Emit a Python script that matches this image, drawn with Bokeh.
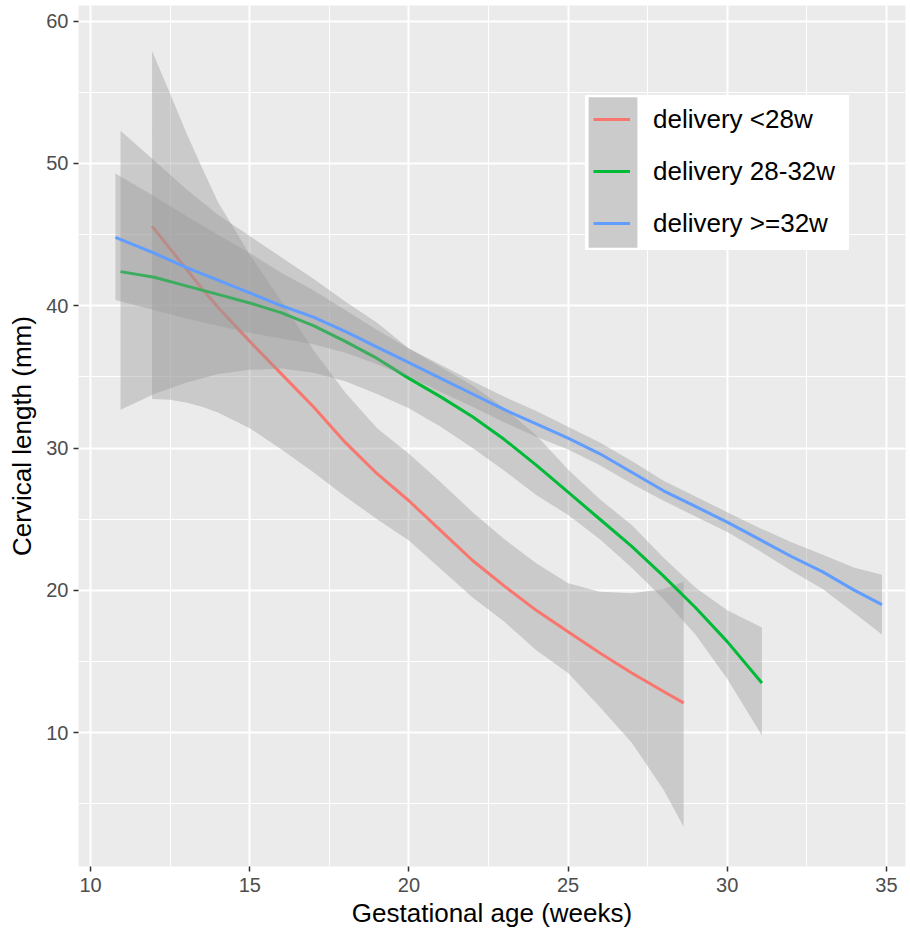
from bokeh.plotting import figure
from bokeh.models import (ColumnDataSource, SingleIntervalTicker, Legend, LegendItem, Range1d)
from bokeh.embed import file_html
from bokeh.resources import INLINE

# ---- data ----
red_x = [11.93, 12.5, 13, 13.5, 14, 15, 16, 17, 18, 19, 20, 21, 22, 23, 24, 25, 26, 27, 28, 28.63]
red_y = [45.6, 44.0, 42.6, 41.2, 39.9, 37.5, 35.2, 32.9, 30.4, 28.2, 26.3, 24.2, 22.1, 20.3, 18.6, 17.1, 15.6, 14.2, 12.9, 12.1]
red_hi = [57.9, 54.9, 52.2, 49.7, 47.3, 43.6, 40.3, 36.9, 33.9, 31.4, 29.6, 27.6, 25.5, 23.6, 21.9, 20.5, 19.9, 19.8, 20.1, 20.6]
red_lo = [33.45, 33.4, 33.2, 32.9, 32.5, 31.4, 29.9, 28.3, 26.6, 25.0, 23.5, 21.5, 19.5, 17.8, 15.8, 14.2, 11.8, 9.3, 6.0, 3.4]

green_x = [10.94, 12, 13, 14, 15, 16, 17, 18, 19, 20, 21, 22, 23, 24, 25, 26, 27, 28, 29, 30, 31.09]
green_y = [42.4, 42.0, 41.4, 40.8, 40.2, 39.5, 38.6, 37.5, 36.3, 34.9, 33.6, 32.2, 30.6, 28.8, 26.9, 25.0, 23.1, 21.0, 18.8, 16.4, 13.5]
green_hi = [52.3, 50.2, 48.2, 46.4, 44.9, 43.4, 41.9, 40.3, 38.8, 37.0, 35.7, 34.4, 32.8, 30.9, 28.5, 26.4, 24.6, 22.3, 20.2, 18.6, 17.4]
green_lo = [32.7, 33.8, 34.6, 35.2, 35.5, 35.6, 35.3, 34.7, 33.8, 32.8, 31.5, 30.0, 28.4, 26.7, 25.3, 23.6, 21.6, 19.4, 16.9, 13.8, 9.8]

blue_x = [10.78, 12, 13, 14, 15, 16, 17, 18, 19, 20, 21, 22, 23, 24, 25, 26, 27, 28, 29, 30, 31, 32, 33, 34, 34.86]
blue_y = [44.8, 43.7, 42.7, 41.8, 40.9, 40.0, 39.2, 38.2, 37.1, 36.0, 34.9, 33.8, 32.7, 31.7, 30.7, 29.6, 28.3, 27.0, 25.9, 24.8, 23.6, 22.4, 21.3, 20.0, 19.0]
blue_hi = [49.3, 47.7, 46.3, 45.0, 43.7, 42.3, 41.1, 39.7, 38.3, 37.0, 35.85, 34.7, 33.6, 32.6, 31.5, 30.4, 29.1, 27.7, 26.6, 25.5, 24.4, 23.4, 22.5, 21.6, 21.1]
blue_lo = [40.4, 39.7, 39.1, 38.6, 38.1, 37.7, 37.3, 36.7, 35.9, 35.0, 33.95, 32.9, 31.8, 30.8, 29.9, 28.8, 27.5, 26.3, 25.2, 24.1, 22.8, 21.4, 20.1, 18.4, 16.9]

series_names = ["delivery <28w", "delivery 28-32w", "delivery >=32w"]
series_colors = ["#F8766D", "#00BA38", "#619CFF"]

x_title = "Gestational age (weeks)"
y_title = "Cervical length (mm)"

FONT = "Liberation Sans"

p = figure(width=908, height=933, output_backend="svg", toolbar_location=None,
           x_range=Range1d(9.62, 35.6), y_range=Range1d(0.6, 61.1),
           min_border_left=78, min_border_right=3, min_border_top=5, min_border_bottom=67)

p.background_fill_color = "#EBEBEB"
p.border_fill_color = "white"
p.outline_line_color = None

p.xaxis.ticker = SingleIntervalTicker(interval=5, num_minor_ticks=2)
p.yaxis.ticker = SingleIntervalTicker(interval=10, num_minor_ticks=2)

for g in (p.xgrid, p.ygrid):
    g.grid_line_color = "white"
    g.grid_line_width = 2
    g.minor_grid_line_color = "white"
    g.minor_grid_line_width = 1

for ax in (p.xaxis, p.yaxis):
    ax.axis_line_color = None
    ax.major_tick_in = 0
    ax.major_tick_out = 5
    ax.minor_tick_in = 0
    ax.minor_tick_out = 0
    ax.major_tick_line_color = "#333333"
    ax.major_tick_line_width = 1.5
    ax.major_label_text_color = "#4D4D4D"
    ax.major_label_text_font = FONT
    ax.major_label_text_font_size = "20px"
    ax.axis_label_text_font = FONT
    ax.axis_label_text_font_style = "normal"
    ax.axis_label_text_font_size = "26px"
    ax.axis_label_text_color = "black"

p.xaxis.axis_label = x_title
p.yaxis.axis_label = y_title
p.xaxis.major_label_standoff = 6
p.xaxis.axis_label_standoff = 3
p.yaxis.major_label_standoff = 5
p.yaxis.axis_label_standoff = 6

groups = [
    (red_x, red_y, red_lo, red_hi),
    (green_x, green_y, green_lo, green_hi),
    (blue_x, blue_y, blue_lo, blue_hi),
]

line_items = []
# helper renderers used only for legend keys (placed outside the visible range)
blank = p.quad(left=[-20], right=[-19], bottom=[-20], top=[-19],
               fill_alpha=0, line_alpha=0)
key_bg = p.quad(left=[-20], right=[-19], bottom=[-20], top=[-19],
                fill_color="#CBCBCB", fill_alpha=1.0, line_color=None)

for (xs, ys, lo, hi), name, col in zip(groups, series_names, series_colors):
    src = ColumnDataSource(dict(x=xs, y=ys, lo=lo, hi=hi))
    p.varea(x="x", y1="lo", y2="hi", source=src, fill_color="#999999", fill_alpha=0.4)
    ln = p.line(x="x", y="y", source=src, line_color=col, line_width=3)
    line_items.append(LegendItem(label=name, renderers=[ln]))

common = dict(orientation="vertical", margin=0, border_line_color=None,
              label_text_font=FONT, label_text_font_size="26px")

# 1) white legend box
leg_bg = Legend(items=[LegendItem(label=" ", renderers=[blank])], location=(507, 616),
                glyph_width=244, glyph_height=155, label_height=20, spacing=0, padding=0,
                label_standoff=0, background_fill_color="white",
                background_fill_alpha=1.0, **common)
# 2) continuous grey key column
leg_key = Legend(items=[LegendItem(label=" ", renderers=[key_bg])], location=(504, 600),
                 glyph_width=61, glyph_height=188, label_height=20, spacing=0, padding=0,
                 label_standoff=0, background_fill_alpha=0, **common)
# 3) coloured key lines and labels
leg_lines = Legend(items=line_items, location=(515, 617), glyph_width=37, glyph_height=52,
                   label_height=52, spacing=0, padding=0, label_standoff=23,
                   label_text_color="black", background_fill_alpha=0, **common)

p.add_layout(leg_bg, "center")
p.add_layout(leg_key, "center")
p.add_layout(leg_lines, "center")

open("out.html", "w").write(file_html(p, INLINE))
